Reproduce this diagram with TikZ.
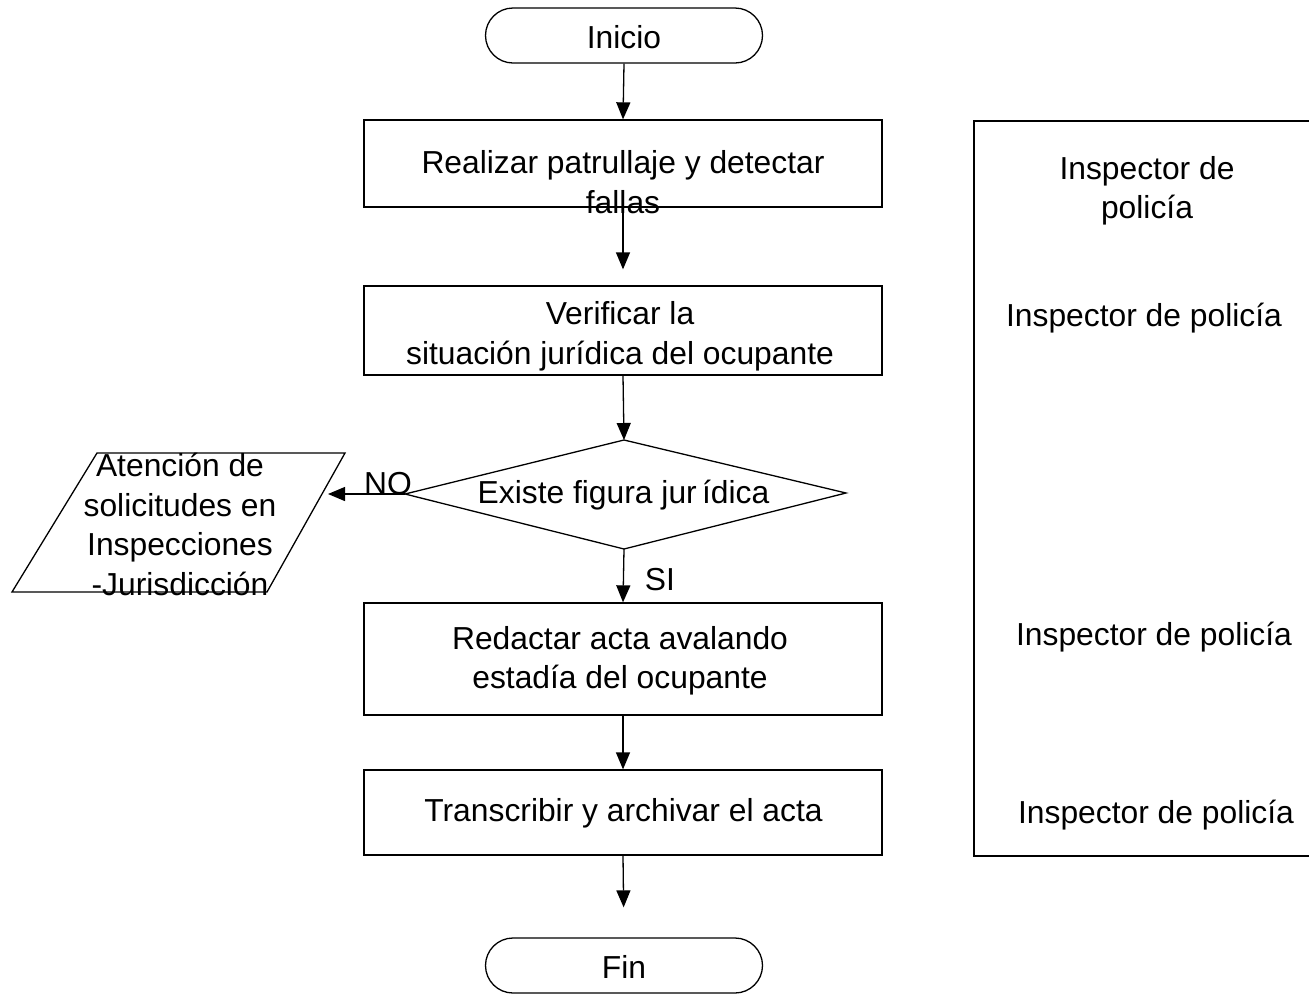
\documentclass[tikz,border=0pt]{standalone}
\usepackage{fontspec}
\setmainfont{Liberation Sans}
\usetikzlibrary{arrows.meta}
\tikzset{
  x=1pt, y=-1pt,
  every node/.style={font=\fontsize{31.8}{39.5}\selectfont, inner sep=0pt},
  box/.style={draw, line width=1.3pt, minimum width=518pt, inner sep=0pt},
  term/.style={draw, line width=1.3pt, rounded corners=27.5pt, minimum width=277pt, minimum height=55pt},
  txt/.style={align=center},
  line/.style={line width=1.3pt},
  arr/.style={line width=1.3pt, -{Triangle[length=17pt,width=14pt]}},
}
\begin{document}
\begin{tikzpicture}
\useasboundingbox (0,0) rectangle (1309,994);
% terminals
\node[term] (ini) at (624,35.5) {};
\node (tini) at (624,37) {Inicio};
\node[term] (fin) at (624,965.5) {};
\node (tfin) at (624,967) {Fin};
% boxes
\node[box, minimum height=87pt] (b1) at (623,163.5) {};
\node[txt] (t1) at (623,182) {Realizar patrullaje y detectar\\fallas};
\node[box, minimum height=89pt] (b2) at (623,330.5) {};
\node[txt] (t2) at (620,336.5) {Verificar la\\situación jurídica del ocupante};
\node[box, minimum height=112pt] (b3) at (623,659) {};
\node[txt] (t3) at (620,661) {Redactar acta avalando\\estadía del ocupante};
\node[box, minimum height=85pt] (b4) at (623,812.5) {};
\node (t4) at (623.5,813) {Transcribir y archivar el acta};
% diamond
\coordinate (dt) at (624,440);
\coordinate (dl) at (405,494);
\coordinate (dr) at (846,493);
\coordinate (db) at (624,549);
\draw[line, line join=miter] (dt) -- (dr) -- (db) -- (dl) -- cycle;
\node (td) at (623.5,495) {Existe figura jur\,ídica};
% parallelogram
\coordinate (p1) at (97,453);
\coordinate (p2) at (345,453);
\coordinate (p3) at (267,592);
\coordinate (p4) at (12,592);
\draw[line] (p1) -- (p2) -- (p3) -- (p4) -- cycle;
\node[txt] (tp) at (180,524.5) {Atención de\\solicitudes en\\Inspecciones\\-Jurisdicción};
\coordinate (pin) at (328,494);
% right panel
\draw[line] (1320,121) -- (974,121) -- (974,856) -- (1320,856);
\node[txt] (r1) at (1147,191) {Inspector de\\policía};
\node (r2) at (1144,318) {Inspector de policía};
\node (r3) at (1154,637) {Inspector de policía};
\node (r4) at (1156,815) {Inspector de policía};
% connectors
\draw[arr] (ini.south) -- (b1.north);
\draw[arr, shorten >=16pt] (b1.south) -- (b2.north);
\draw[arr] (b2.south) -- (dt);
\draw[arr] (dl) -- (pin);
\node (no) at (388,484) {NO};
\draw[arr] (db) -- (b3.north);
\node (si) at (660,580) {SI};
\draw[arr] (b3.south) -- (b4.north);
\draw[arr, shorten >=30pt] (b4.south) -- (fin.north);
\end{tikzpicture}
\end{document}
